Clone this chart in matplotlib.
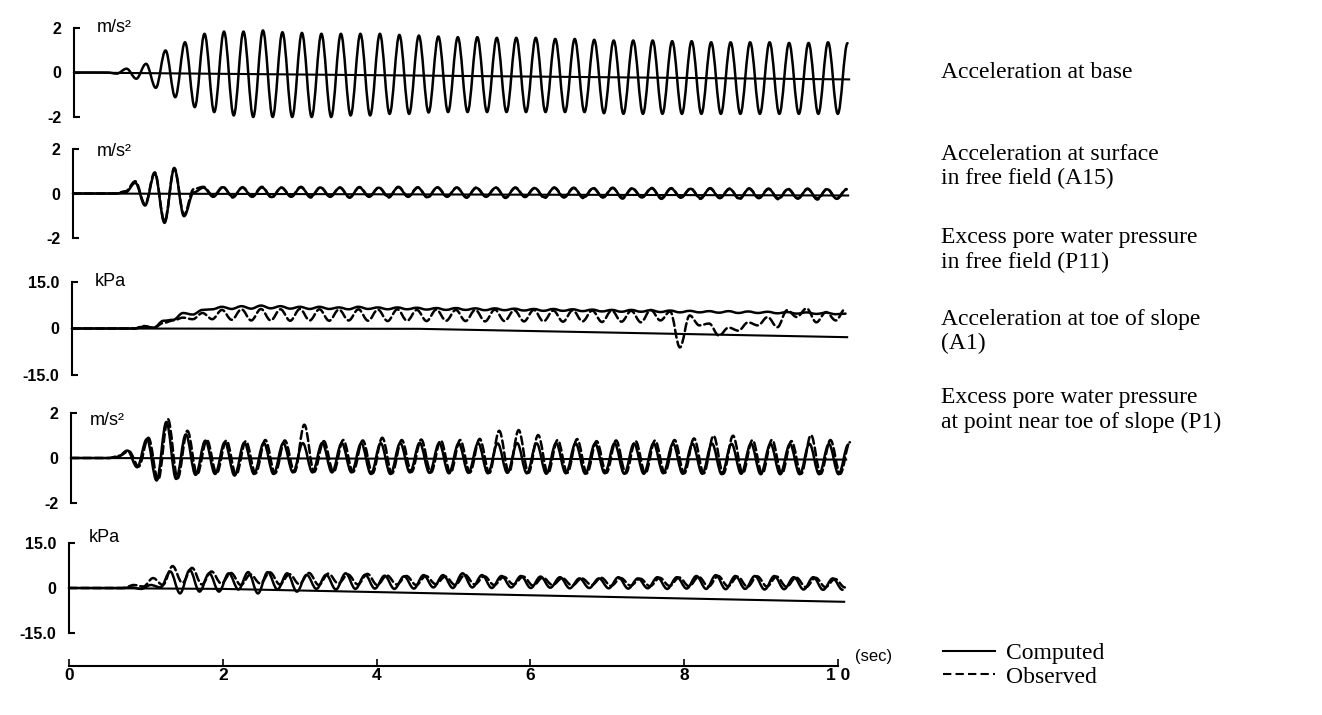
import numpy as np
import matplotlib.pyplot as plt
from matplotlib.lines import Line2D
from matplotlib.path import Path
from matplotlib.patches import PathPatch

half_cycle = 0.1267   # s
t_last = 10.08        # s, where the traces stop

# ---- Acceleration at base (m/s2) ----
base_t0 = 0.43
base_comp = [0.00, -0.05, 0.17, -0.28, 0.39, -0.69, 0.99, -1.11, 1.36, -1.56,
             1.74, -1.78, 1.84, -1.93, 1.84, -2.00, 1.89, -2.00, 1.81, -2.00,
             1.78, -2.00, 1.74, -2.00, 1.74, -1.93, 1.74, -1.93, 1.74, -1.86,
             1.69, -1.86, 1.66, -1.80, 1.62, -1.78, 1.59, -1.78, 1.59, -1.78,
             1.56, -1.78, 1.56, -1.78, 1.56, -1.78, 1.51, -1.78, 1.51, -1.78,
             1.47, -1.83, 1.44, -1.86, 1.44, -1.86, 1.44, -1.86, 1.41, -1.86,
             1.41, -1.86, 1.36, -1.86, 1.36, -1.86, 1.36, -1.86, 1.36, -1.86,
             1.33, -1.86, 1.33, -1.86, 1.36, -1.86, 1.32]
base_zero_t = [0.0, t_last]
base_zero_v = [0.0, -0.31]

# ---- Acceleration at surface in free field, A15 (m/s2) ----
a15_t0 = 0.43
a15_comp = [0.00, 0.00, 0.05, 0.48, -0.54, 0.90, -1.32, 1.11, -1.02, 0.05,
            0.26, -0.15, 0.28, -0.14, 0.26, -0.15, 0.27, -0.16, 0.26, -0.15,
            0.28, -0.14, 0.27, -0.15, 0.26, -0.16, 0.27, -0.15, 0.26, -0.14,
            0.28, -0.15, 0.26, -0.16, 0.27, -0.15, 0.26, -0.16, 0.25, -0.15,
            0.26, -0.17, 0.25, -0.16, 0.24, -0.17, 0.25, -0.18, 0.24, -0.17,
            0.23, -0.18, 0.24, -0.19, 0.22, -0.18, 0.23, -0.20, 0.22, -0.19,
            0.21, -0.20, 0.22, -0.21, 0.20, -0.22, 0.21, -0.21, 0.20, -0.22,
            0.19, -0.23, 0.20, -0.22, 0.19, -0.24, 0.18]
a15_obs = [0.00, 0.00, 0.10, 0.55, -0.48, 0.95, -1.25, 1.15, -0.95, 0.20,
           0.30, -0.10, 0.30, -0.18, 0.28, -0.12, 0.30, -0.18, 0.27, -0.12,
           0.30, -0.18, 0.28, -0.12, 0.27, -0.19, 0.29, -0.12, 0.27, -0.18,
           0.30, -0.12, 0.28, -0.19, 0.28, -0.12, 0.27, -0.19, 0.27, -0.13,
           0.27, -0.20, 0.27, -0.13, 0.25, -0.21, 0.27, -0.15, 0.26, -0.21,
           0.25, -0.16, 0.26, -0.23, 0.24, -0.16, 0.25, -0.24, 0.24, -0.17,
           0.23, -0.24, 0.24, -0.19, 0.22, -0.26, 0.23, -0.19, 0.22, -0.26,
           0.21, -0.21, 0.22, -0.27, 0.21, -0.22, 0.20]
a15_zero_t = [0.0, t_last]
a15_zero_v = [0.0, -0.09]

# ---- Excess pore water pressure in free field, P11 (kPa) ----
p11_t0 = 0.43
p11_comp = [0.0, 0.0, 0.0, 0.0, 0.6, 0.3, 2.5, 2.8, 5.0, 4.5,
            6.0, 6.2, 7.0, 6.3, 7.2, 6.4, 7.4, 6.5, 7.2, 6.4,
            7.0, 6.3, 7.0, 6.3, 6.8, 6.2, 7.0, 6.3, 6.8, 6.2,
            6.8, 6.2, 6.7, 6.1, 6.6, 6.0, 6.6, 6.0, 6.5, 5.9,
            6.5, 5.9, 6.4, 5.8, 6.3, 5.7, 6.3, 5.7, 6.2, 5.6,
            6.1, 5.5, 6.0, 5.4, 6.0, 5.4, 5.9, 5.3, 5.8, 5.2,
            5.7, 5.2, 5.6, 5.1, 5.6, 5.0, 5.5, 5.0, 5.4, 4.9,
            5.3, 4.8, 5.2, 4.7, 5.1, 4.6, 4.8]
p11_obs = [0.0, 0.0, 0.0, 0.0, 0.8, 0.2, 1.8, 2.6, 3.5, 3.0,
           5.0, 3.0, 6.0, 2.8, 6.2, 2.6, 6.3, 2.6, 6.2, 2.5,
           6.3, 2.6, 6.2, 2.5, 6.1, 2.6, 6.2, 2.5, 6.1, 2.4,
           6.2, 2.5, 6.0, 2.4, 6.1, 2.5, 6.0, 2.4, 6.0, 2.3,
           6.1, 2.4, 5.9, 2.3, 6.0, 2.3, 5.8, 2.2, 5.9, 2.3,
           5.8, 2.1, 5.8, 2.2, 5.7, 2.0, 6.0, 2.6, 5.5, -6.1,
           4.2, 1.0, 1.6, -2.3, 0.3, -0.7, 2.0, 1.0, 3.7, 0.4,
           5.9, 3.7, 6.5, 2.0, 5.3, 2.6, 6.5]
p11_zero_t = [0.0, 4.5, t_last]
p11_zero_v = [0.0, -0.1, -2.8]

# ---- Acceleration at toe of slope, A1 (m/s2) ----
a1_t0_comp = 0.48
a1_t0_obs = 0.50
a1_comp = [0.00, 0.05, 0.33, -0.41, 0.84, -1.00, 1.60, -0.93, 1.05, -0.75,
           0.77, -0.71, 0.70, -0.78, 0.68, -0.71, 0.67, -0.71, 0.66, -0.64,
           0.66, -0.64, 0.67, -0.64, 0.66, -0.64, 0.65, -0.71, 0.66, -0.71,
           0.66, -0.64, 0.67, -0.66, 0.66, -0.68, 0.65, -0.66, 0.66, -0.68,
           0.65, -0.66, 0.66, -0.68, 0.65, -0.70, 0.66, -0.68, 0.65, -0.70,
           0.64, -0.68, 0.65, -0.70, 0.64, -0.70, 0.65, -0.68, 0.64, -0.70,
           0.63, -0.70, 0.64, -0.72, 0.63, -0.70, 0.64, -0.72, 0.63, -0.72,
           0.62, -0.72, 0.63, -0.72, 0.62, -0.72, 0.60]
a1_obs = [0.00, 0.10, 0.30, -0.38, 0.90, -0.98, 1.73, -0.90, 1.21, -0.72,
          0.80, -0.68, 0.78, -0.74, 0.75, -0.68, 0.80, -0.68, 0.78, -0.62,
          1.48, -0.62, 0.75, -0.62, 0.80, -0.62, 0.78, -0.68, 0.90, -0.68,
          0.80, -0.62, 0.82, -0.64, 0.78, -0.66, 0.80, -0.64, 0.85, -0.66,
          1.21, -0.64, 1.24, -0.66, 1.02, -0.68, 0.80, -0.66, 0.84, -0.68,
          0.75, -0.66, 0.78, -0.68, 0.75, -0.68, 0.78, -0.66, 0.80, -0.68,
          0.87, -0.68, 0.99, -0.70, 0.99, -0.68, 0.80, -0.70, 0.81, -0.70,
          0.75, -0.70, 1.02, -0.70, 0.80, -0.70, 0.70]
a1_zero_t = [0.0, t_last]
a1_zero_v = [0.0, -0.07]

# ---- Excess pore water pressure near toe of slope, P1 (kPa) ----
p1_t0_comp = 0.43
p1_t0_obs = 0.46
p1_comp = [0.0, 0.0, 0.0, 0.2, -0.3, 1.0, 0.2, 5.5, -1.8, 6.0,
           -1.2, 4.9, -1.2, 4.9, -0.5, 5.3, -1.8, 5.3, -0.5, 4.9,
           -1.2, 4.4, -0.3, 4.4, -0.5, 4.9, -0.3, 4.4, -0.2, 4.1,
           -0.3, 3.9, -0.2, 4.3, 0.2, 4.3, 0.0, 4.9, 0.2, 4.3,
           0.0, 4.0, 0.2, 4.0, 0.0, 3.8, 0.1, 3.6, -0.1, 3.2,
           0.0, 3.2, -0.1, 3.6, -0.2, 3.2, -0.1, 3.6, -0.3, 3.6,
           -0.2, 4.0, -0.3, 4.3, -0.4, 4.0, -0.3, 4.0, -0.5, 4.0,
           -0.4, 3.6, -0.5, 3.6, -0.6, 3.2, -0.6]
p1_obs = [0.0, 0.0, 0.0, 1.0, 0.5, 3.3, 1.0, 7.3, 1.7, 6.7,
          1.2, 5.5, 1.5, 5.0, 1.0, 4.5, 1.5, 5.2, 1.2, 4.6,
          1.3, 5.0, 1.0, 4.8, 1.5, 4.5, 1.2, 4.7, 1.0, 4.2,
          1.2, 4.0, 1.0, 4.0, 1.3, 3.8, 1.0, 4.4, 1.2, 3.9,
          1.0, 3.7, 1.2, 3.8, 0.8, 3.5, 1.0, 3.3, 0.8, 3.2,
          1.0, 3.4, 0.7, 3.3, 0.8, 3.1, 0.6, 3.4, 0.7, 3.5,
          0.6, 3.7, 0.5, 4.0, 0.6, 3.8, 0.4, 3.9, 0.5, 3.8,
          0.4, 3.5, 0.3, 3.4, 0.3, 3.0, 0.2]
p1_zero_t = [0.0, 2.0, t_last]
p1_zero_v = [0.0, -0.3, -4.6]

time_ticks = [0, 2, 4, 6, 8, 10]
time_labels = ['0', '2', '4', '6', '8', '1 0']

acc_ticks = [-2, 0, 2]
acc_labels = ['-2', '0', '2']
kpa_ticks = [-15, 0, 15]
kpa_labels = ['-15.0', '0', '15.0']

W, H = 1322, 715
px_per_s = 76.9
x_max = 10.35
sans = 'Liberation Sans'
serif = 'Liberation Serif'
lw = 1.8
dash = (0, (3.2, 1.6))


def trace(ax, t0, values, ls='-'):
    """draw the peaks/troughs as smooth half waves (bezier, flat at each extreme)"""
    t = np.r_[0.0, t0 + half_cycle * np.arange(len(values))]
    v = np.r_[0.0, values]
    verts = [(t[0], v[0])]
    codes = [Path.MOVETO]
    for i in range(1, len(t)):
        dt = t[i] - t[i - 1]
        verts += [(t[i - 1] + 0.36 * dt, v[i - 1]), (t[i] - 0.36 * dt, v[i]), (t[i], v[i])]
        codes += [Path.CURVE4] * 3
    patch = PathPatch(Path(verts, codes), facecolor='none', edgecolor='black',
                      lw=lw, ls=ls, joinstyle='round', capstyle='round', clip_on=False)
    ax.add_patch(patch)


def make_panel(left, top, bottom, ylim, ticks, labels, unit, unit_pos):
    ax = fig.add_axes([left / W, 1 - bottom / H, x_max * px_per_s / W, (bottom - top) / H])
    ax.set_xlim(0, x_max)
    ax.set_ylim(*ylim)
    for side in ['top', 'right', 'bottom']:
        ax.spines[side].set_visible(False)
    ax.spines['left'].set_linewidth(1.5)
    ax.set_xticks([])
    ax.set_yticks(ticks)
    ax.set_yticklabels(labels, family=sans, fontsize=11.5, fontweight='bold')
    ax.tick_params(axis='y', direction='in', length=4, width=1.5, pad=9)
    ax.text(unit_pos[0], unit_pos[1], unit, family=sans, fontsize=13,
            va='center', ha='left')
    return ax


fig = plt.figure(figsize=(W / 100, H / 100), dpi=100)

ax1 = make_panel(74, 28, 117, (-2, 2), acc_ticks, acc_labels, 'm/s²', (0.3, 2.0))
ax1.plot(base_zero_t, base_zero_v, color='black', lw=1.5)
trace(ax1, base_t0, base_comp)

ax2 = make_panel(73, 149, 238, (-2, 2), acc_ticks, acc_labels, 'm/s²', (0.31, 1.9))
ax2.plot(a15_zero_t, a15_zero_v, color='black', lw=1.5)
trace(ax2, a15_t0, a15_comp)
trace(ax2, a15_t0, a15_obs, ls=dash)

ax3 = make_panel(72, 282, 375, (-15, 15), kpa_ticks, kpa_labels, 'kPa', (0.3, 15.0))
ax3.plot(p11_zero_t, p11_zero_v, color='black', lw=1.5)
trace(ax3, p11_t0, p11_comp)
trace(ax3, p11_t0, p11_obs, ls=dash)

ax4 = make_panel(71, 413, 503, (-2, 2), acc_ticks, acc_labels, 'm/s²', (0.25, 1.65))
ax4.plot(a1_zero_t, a1_zero_v, color='black', lw=1.5)
trace(ax4, a1_t0_comp, a1_comp)
trace(ax4, a1_t0_obs, a1_obs, ls=dash)

ax5 = make_panel(69, 543, 633, (-15, 15), kpa_ticks, kpa_labels, 'kPa', (0.26, 17.0))
ax5.plot(p1_zero_t, p1_zero_v, color='black', lw=1.5)
trace(ax5, p1_t0_comp, p1_comp)
trace(ax5, p1_t0_obs, p1_obs, ls=dash)

# time axis sits a little below the last panel
ax5.spines['bottom'].set_visible(True)
ax5.spines['bottom'].set_position(('outward', 24))
ax5.spines['bottom'].set_bounds(0, 10)
ax5.spines['bottom'].set_linewidth(1.5)
ax5.set_xticks(time_ticks)
ax5.set_xticklabels(time_labels, family=sans, fontsize=12.5, fontweight='bold')
ax5.tick_params(axis='x', direction='in', length=5, width=1.2, pad=1)
fig.text(855 / W, 1 - 657 / H, '(sec)', family=sans, fontsize=12, va='center')

# captions on the right
captions = [
    (73, 'Acceleration at base'),
    (154, 'Acceleration at surface'),
    (178, 'in free field (A15)'),
    (237, 'Excess pore water pressure'),
    (262, 'in free field (P11)'),
    (319, 'Acceleration at toe of slope'),
    (343, '(A1)'),
    (398, 'Excess pore water pressure'),
    (422, 'at point near toe of slope (P1)'),
]
for y, s in captions:
    fig.text(941 / W, 1 - y / H, s, family=serif, fontsize=17, va='center')

handles = [Line2D([], [], color='black', lw=1.5),
           Line2D([], [], color='black', lw=1.5, ls=(0, (4, 2)))]
fig.legend(handles, ['Computed', 'Observed'], loc='upper left',
           bbox_to_anchor=(922 / W, 1 - 621 / H), frameon=False,
           handlelength=2.2, handletextpad=0.45, labelspacing=0.1,
           prop={'family': serif, 'size': 17})

fig.savefig('out.png', dpi=100)
